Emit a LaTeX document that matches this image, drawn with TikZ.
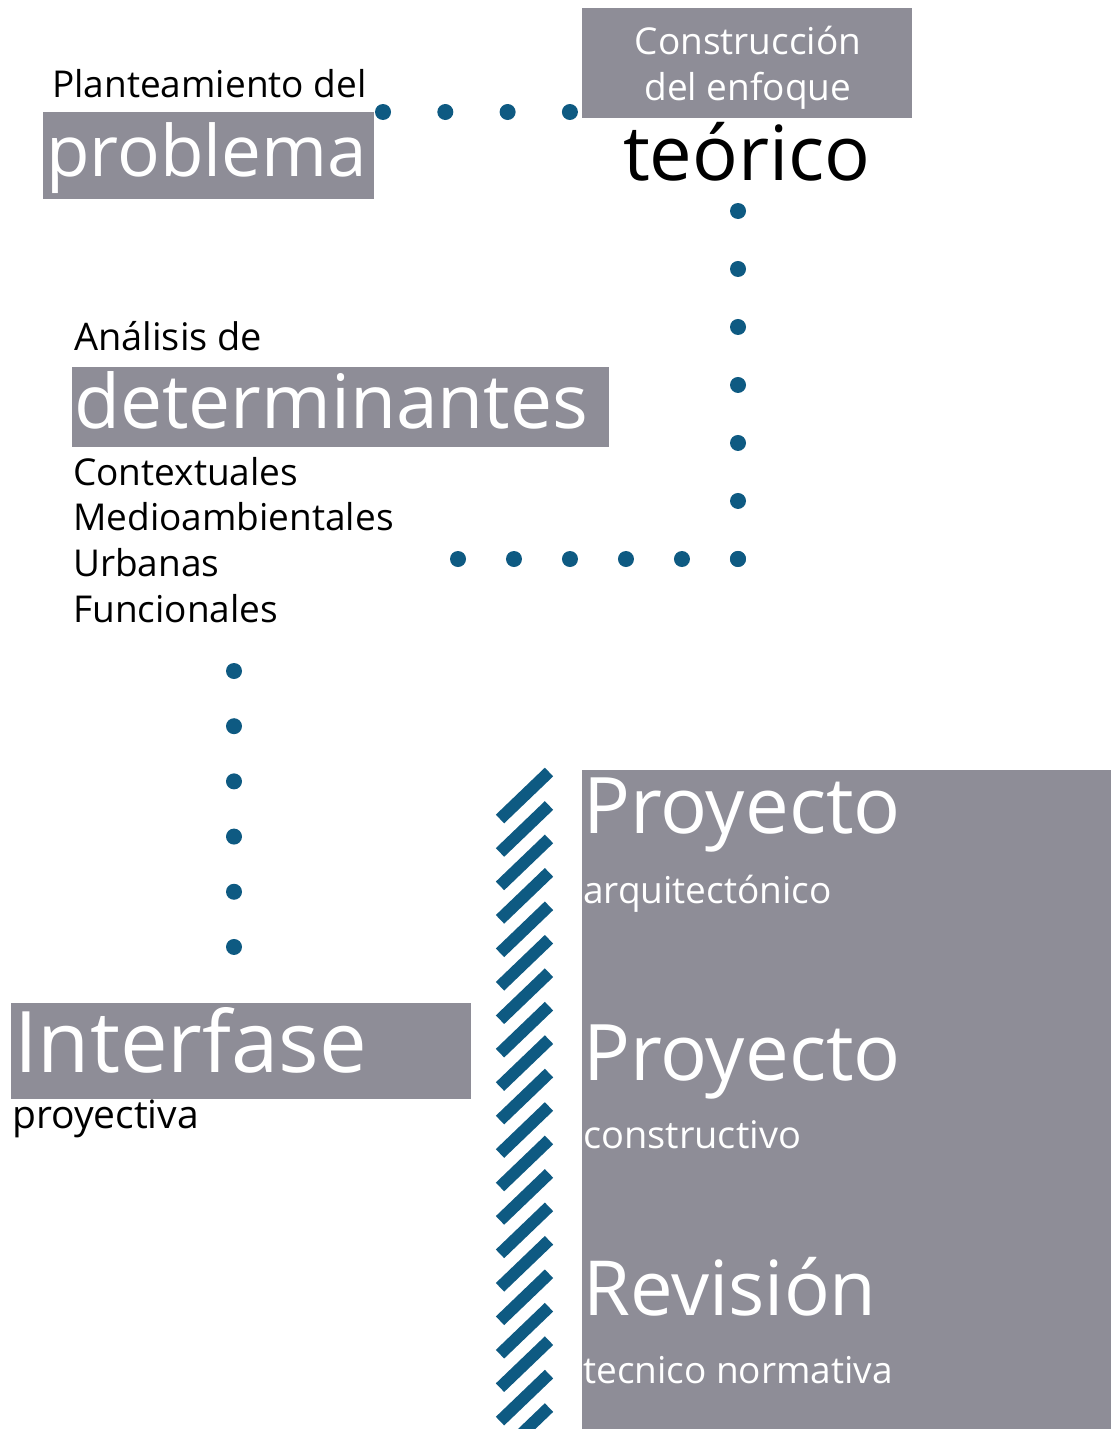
\documentclass[tikz,border=0pt]{standalone}
\usepackage{fontspec}
\setmainfont{Open Sans}
\definecolor{boxgray}{HTML}{8E8D97}
\definecolor{dotblue}{HTML}{0E5A82}
\newcommand\myfs[1]{\fontsize{#1}{#1}\selectfont}
\begin{document}
\begin{tikzpicture}[x=1pt,y=-1pt,
  graybox/.style={fill=boxgray, draw=none, inner sep=0pt, outer sep=0pt, anchor=north west},
  txt/.style={inner sep=0pt, anchor=base west, text=black},
  wtxt/.style={txt, text=white},
  dotline/.style={draw=dotblue, line width=16pt, line cap=round},
  stripe/.style={draw=dotblue, line width=12pt, line cap=butt}]
\useasboundingbox (0,0) rectangle (1111,1429);
\clip (0,0) rectangle (1111,1429);

% gray boxes
\node[graybox, minimum width=331pt, minimum height=87pt] (probbox) at (43,112) {};
\node[graybox, minimum width=330pt, minimum height=110pt] (consbox) at (582,8) {};
\node[graybox, minimum width=537pt, minimum height=80pt] (detbox) at (72,367) {};
\node[graybox, minimum width=460pt, minimum height=96pt] (intbox) at (11,1003) {};
\node[graybox, minimum width=529pt, minimum height=659pt] (projbox) at (582,770) {};

% texts
\node[txt, font=\myfs{37}] (plant) at (52,97) {Planteamiento del};
\node[wtxt, font=\myfs{71}] (prob) at (46,176) {problema};
\node[inner sep=0pt, anchor=base, text=white, font=\myfs{37}] (cons1) at (748,55) {Construcción};
\node[inner sep=0pt, anchor=base, text=white, font=\myfs{37}] (cons2) at (748,100) {del enfoque};
\node[inner sep=0pt, anchor=base, text=black, font=\myfs{76}] (teor) at (747,180) {teórico};

\node[txt, font=\myfs{38}] (anal) at (74,350) {Análisis de};
\node[wtxt, font=\myfs{75}] (det) at (74,428) {determinantes};
\node[txt, font=\myfs{37}] (l1) at (73,485) {Contextuales};
\node[txt, font=\myfs{37}] (l2) at (73,530) {Medioambientales};
\node[txt, font=\myfs{37}] (l3) at (73,576) {Urbanas};
\node[txt, font=\myfs{37}] (l4) at (73,622) {Funcionales};

\node[wtxt, font=\myfs{85}] (inter) at (14,1072) {Interfase};
\node[txt, font=\myfs{39}] (proyv) at (12,1128) {proyectiva};

\node[wtxt, font=\myfs{78}] (p1) at (583,833) {Proyecto};
\node[wtxt, font=\myfs{37}] (p1s) at (583,903) {arquitectónico};
\node[wtxt, font=\myfs{78}] (p2) at (583,1080) {Proyecto};
\node[wtxt, font=\myfs{38}] (p2s) at (583,1148) {constructivo};
\node[wtxt, font=\myfs{76}] (p3) at (583,1315) {Revisión};
\node[wtxt, font=\myfs{37}] (p3s) at (583,1383) {tecnico normativa};

% dotted connectors
\coordinate (pa) at (383,112);
\coordinate (pb) at (570,112);
\coordinate (ra) at (738,211);
\coordinate (rb) at (738,559);
\coordinate (ba) at (458,559);
\coordinate (la) at (234,671);
\coordinate (lb) at (234,947);
\draw[dotline, dash pattern=on 0pt off 62.3pt] (pa) -- (pb);
\draw[dotline, dash pattern=on 0pt off 57.99pt] (ra) -- (rb);
\draw[dotline, dash pattern=on 0pt off 55.99pt] (ba) -- (rb);
\draw[dotline, dash pattern=on 0pt off 55.19pt] (la) -- (lb);

% hatched band
\foreach \k in {0,...,19} {
  \draw[stripe] (500,{819+33.45*\k}) -- (549,{772+33.45*\k});
}
\end{tikzpicture}
\end{document}
